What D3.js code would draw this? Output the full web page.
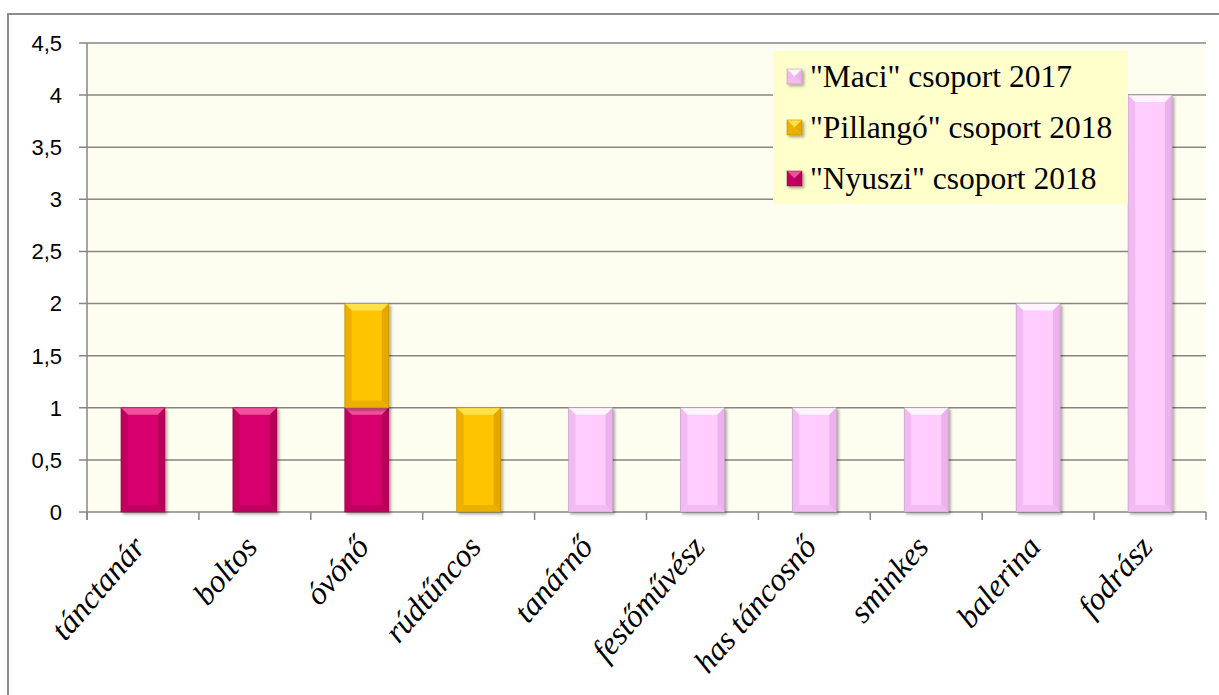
<!DOCTYPE html>
<html><head><meta charset="utf-8">
<script src="https://cdn.jsdelivr.net/npm/d3@7"></script>
<style>body{margin:0;background:#fff;}svg{display:block;}</style>
</head><body>
<svg id="c" width="1219" height="695"></svg>
<script>
const categories = ["tánctanár","boltos","óvónő","rúdtűncos","tanárnő","festőművész","has táncosnő","sminkes","balerina","fodrász"];
const nyuszi   = [1,1,1,0,0,0,0,0,0,0];
const pillango = [0,0,1,1,0,0,0,0,0,0];
const maci     = [0,0,0,0,1,1,1,1,2,4];
const seriesNames = ['"Nyuszi" csoport 2018','"Pillangó" csoport 2018','"Maci" csoport 2017'];
const yTicks = [0,0.5,1,1.5,2,2.5,3,3.5,4,4.5];

const styles = [
  {base:"#D8056E", top:"#F2509C", side:"#B8005A", bottom:"#C0025F", stroke:"#8A0044"},
  {base:"#FFC400", top:"#FFE24A", side:"#E6A800", bottom:"#EBB000", stroke:"#A88000"},
  {base:"#FFCCFF", top:"#FFF4FF", side:"#EDB2ED", bottom:"#F2BCF2", stroke:"#A890A8"}
];

const svg = d3.select("#c");
const defs = svg.append("defs");
const f = defs.append("filter").attr("id","sh").attr("x","-20%").attr("y","-20%").attr("width","150%").attr("height","150%");
f.append("feDropShadow").attr("dx",2).attr("dy",2).attr("stdDeviation",1.5).attr("flood-color","#000").attr("flood-opacity",0.35);

// outer border
svg.append("rect").attr("x",8).attr("y",14).attr("width",1230).attr("height",700)
  .attr("fill","#fff").attr("stroke","#8c8c8c").attr("stroke-width",2);

const L=87, R=1206, T=43, B=512;
const x = d3.scaleBand().domain(categories).range([L,R]).paddingInner(0.607).paddingOuter(0.3035);
const y = d3.scaleLinear().domain([0,4.5]).range([B,T]);

svg.append("rect").attr("x",L).attr("y",T).attr("width",R-L).attr("height",B-T).attr("fill","#FEFEF0");

// gridlines
svg.append("g").selectAll("line").data(yTicks).join("line")
  .attr("x1",79).attr("x2",R).attr("y1",d=>y(d)).attr("y2",d=>y(d))
  .attr("stroke","#868686").attr("stroke-width",1.5);

// y axis line
svg.append("line").attr("x1",L).attr("x2",L).attr("y1",T).attr("y2",B+8).attr("stroke","#868686").attr("stroke-width",1.5);

// x ticks
const step = x.step();
const bounds = d3.range(categories.length+1).map(i=>L+i*step);
svg.append("g").selectAll("line").data(bounds).join("line")
  .attr("x1",d=>d).attr("x2",d=>d).attr("y1",B).attr("y2",B+8)
  .attr("stroke","#868686").attr("stroke-width",1.5);

// y labels
svg.append("g").selectAll("text").data(yTicks).join("text")
  .attr("x",62).attr("y",d=>y(d)).attr("dy","0.36em").attr("text-anchor","end")
  .attr("font-family","Liberation Sans, Arial, sans-serif").attr("font-size",22).attr("fill","#000")
  .text(d=>String(d).replace(".",","));

// bars
const data = categories.map((c,i)=>({cat:c, s0:nyuszi[i], s1:pillango[i], s2:maci[i]}));
const stack = d3.stack().keys(["s0","s1","s2"])(data);

function bevelBar(g, bx, by, w, h, st){
  if(h<=0) return;
  const b = Math.min(7, h/2, w/2);
  const gg = g.append("g").attr("filter","url(#sh)");
  gg.append("rect").attr("x",bx).attr("y",by).attr("width",w).attr("height",h).attr("fill",st.base);
  const P = pts=>"M"+pts.map(p=>p.join(",")).join("L")+"Z";
  gg.append("path").attr("d",P([[bx,by],[bx+w,by],[bx+w-b,by+b],[bx+b,by+b]])).attr("fill",st.top);
  gg.append("path").attr("d",P([[bx,by],[bx+b,by+b],[bx+b,by+h-b],[bx,by+h]])).attr("fill",st.side).attr("opacity",0.7);
  gg.append("path").attr("d",P([[bx+w,by],[bx+w-b,by+b],[bx+w-b,by+h-b],[bx+w,by+h]])).attr("fill",st.side);
  gg.append("path").attr("d",P([[bx,by+h],[bx+b,by+h-b],[bx+w-b,by+h-b],[bx+w,by+h]])).attr("fill",st.bottom);
  gg.append("rect").attr("x",bx).attr("y",by).attr("width",w).attr("height",h)
    .attr("fill","none").attr("stroke",st.stroke).attr("stroke-width",0.8).attr("stroke-opacity",0.6);
}

const barsG = svg.append("g");
stack.forEach((layer,si)=>{
  layer.forEach(d=>{
    const y0=y(d[0]), y1=y(d[1]);
    bevelBar(barsG, x(d.data.cat), y1, x.bandwidth(), y0-y1, styles[si]);
  });
});

// x labels
svg.append("g").selectAll("text").data(categories).join("text")
  .attr("transform",d=>`translate(${x(d)+x.bandwidth()/2+4},${B+36}) rotate(-49)`)
  .attr("text-anchor","end")
  .attr("font-family","Liberation Serif, Times New Roman, serif").attr("font-style","italic")
  .attr("font-size",32).attr("fill","#000")
  .text(d=>d);

// legend
const lg = svg.append("g");
lg.append("rect").attr("x",773).attr("y",51).attr("width",355).attr("height",153).attr("fill","#FFFFCC");
const order=[2,1,0];
order.forEach((si,k)=>{
  const cy = 76 + k*51;
  const m = lg.append("g");
  bevelBar(m, 787, cy-7, 15, 15, styles[si]);
  lg.append("text").attr("x",810).attr("y",cy).attr("dy","0.35em")
    .attr("font-family","Liberation Serif, Times New Roman, serif").attr("font-size",31.5).attr("fill","#000")
    .text(seriesNames[si]);
});
</script>
</body></html>
